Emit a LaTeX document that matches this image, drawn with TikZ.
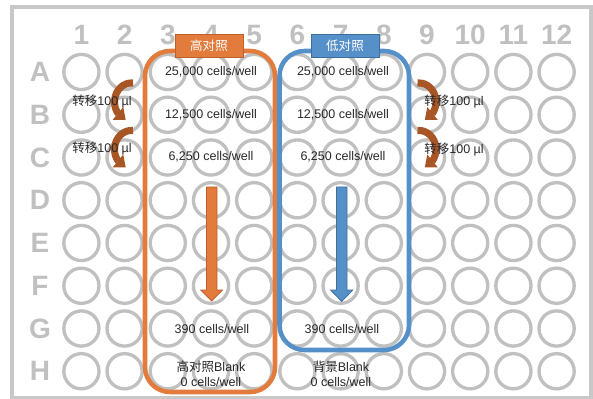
\documentclass[tikz,border=0pt]{standalone}
\usepackage{fontspec}
\setmainfont{Liberation Sans}
\newfontfamily\cjk{Noto Sans CJK SC}
\usetikzlibrary{arrows.meta,bending}

\definecolor{plategray}{RGB}{200,200,200}
\definecolor{wellgray}{RGB}{192,192,192}
\definecolor{hiorange}{RGB}{226,123,60}
\definecolor{hiorangedk}{RGB}{190,96,42}
\definecolor{loblue}{RGB}{86,144,201}
\definecolor{loblued}{RGB}{62,110,160}
\definecolor{transferbrown}{RGB}{168,86,38}
\definecolor{txt}{RGB}{40,40,40}

\tikzset{
  wellring/.style={draw=wellgray, line width=2.5pt},
  platelabel/.style={text=wellgray, font=\fontsize{21}{21}\selectfont\bfseries, inner sep=0pt},
  celltxt/.style={text=txt, font=\fontsize{9.4}{11}\selectfont, inner sep=0pt, align=center},
  groupbox/.style={line width=3.4pt, rounded corners=18.75pt},
  tagbox/.style={text=white, font=\fontsize{9.4}{11}\selectfont\cjk, minimum width=51pt, minimum height=17.25pt, inner sep=0pt, line width=0.6pt},
  transfer/.style={draw=transferbrown, line width=5.3pt, -{Triangle[width=12pt,length=7.5pt]}},
  dilution/.style={line width=0.6pt},
}

\begin{document}
\begin{tikzpicture}[x=0.75pt,y=-0.75pt]
\useasboundingbox (0,0) rectangle (593,399);

% plate outline
\draw[draw=plategray, line width=3pt] (12,7) rectangle (590.5,397.5);

% 96 wells
\foreach \c in {1,...,12}{
  \foreach \r in {0,...,7}{
    \draw[wellring] ({81.4+(\c-1)*43.2},{72+\r*42.75}) circle[radius=17.6];
  }
}

% column numbers
\foreach \c in {1,...,12}{
  \node[platelabel] (col\c) at ({81.4+(\c-1)*43.2},35) {\c};
}
% row letters
\foreach \l [count=\i from 0] in {A,B,C,D,E,F,G,H}{
  \node[platelabel] (row\l) at (40,{72+\i*42.75}) {\l};
}

% control groups
\draw[groupbox, draw=hiorange] (145,51) rectangle (275,392);
\draw[groupbox, draw=loblue] (279.5,51) rectangle (409,350);

\node[tagbox, fill=hiorange, draw=hiorangedk] (hightag) at (209,45.5) {高对照};
\node[tagbox, fill=loblue, draw=loblued] (lowtag) at (345,45.5) {低对照};

% serial dilution arrows
\fill[hiorange, draw=hiorangedk, dilution]
  (206.5,187) -- (217,187) -- (217,290) -- (222.5,290) -- (211.7,301)
  -- (200.8,290) -- (206.5,290) -- cycle;
\fill[loblue, draw=loblued, dilution]
  (336.5,187) -- (347,187) -- (347,290) -- (352.8,290) -- (341.7,301.5)
  -- (330.6,290) -- (336.5,290) -- cycle;

% transfer arrows, left side
\draw[transfer] (133,83) arc[start angle=-85, end angle=-250, x radius=17, y radius=19];
\draw[transfer] (133,130.5) arc[start angle=-85, end angle=-250, x radius=17, y radius=19];
% transfer arrows, right side
\draw[transfer] (417.5,83) arc[start angle=-95, end angle=70, x radius=17, y radius=19];
\draw[transfer] (417.5,130.5) arc[start angle=-95, end angle=70, x radius=17, y radius=19];

\node[celltxt] (tl1) at (102,102) {{\cjk 转移}100 µl};
\node[celltxt] (tl2) at (102,149) {{\cjk 转移}100 µl};
\node[celltxt] (tr1) at (454,102) {{\cjk 转移}100 µl};
\node[celltxt] (tr2) at (454,149.5) {{\cjk 转移}100 µl};

% high control concentrations
\node[celltxt] (hA) at (211,72) {25,000 cells/well};
\node[celltxt] (hB) at (211,114.5) {12,500 cells/well};
\node[celltxt] (hC) at (211,156.5) {6,250 cells/well};
\node[celltxt] (hG) at (212,329) {390 cells/well};
\node[celltxt] (hH) at (211,374) {{\cjk 高对照}Blank\\0 cells/well};

% low control concentrations
\node[celltxt] (lA) at (343,72) {25,000 cells/well};
\node[celltxt] (lB) at (343,114.5) {12,500 cells/well};
\node[celltxt] (lC) at (343,156.5) {6,250 cells/well};
\node[celltxt] (lG) at (342,329) {390 cells/well};
\node[celltxt] (lH) at (341,374) {{\cjk 背景}Blank\\0 cells/well};
\end{tikzpicture}
\end{document}
